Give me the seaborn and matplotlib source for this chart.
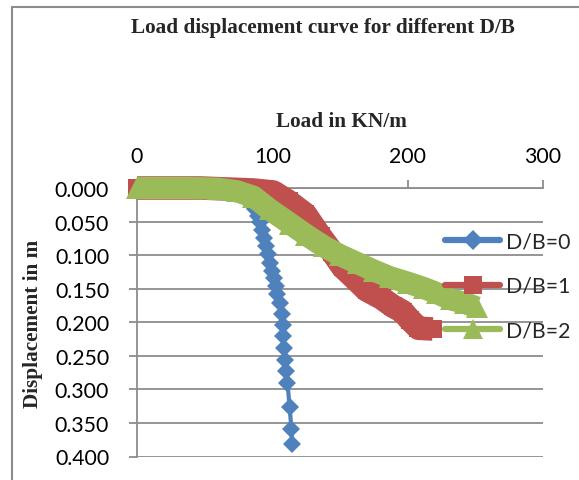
import matplotlib
matplotlib.use("Agg")
import matplotlib.pyplot as plt
from matplotlib.lines import Line2D
import seaborn as sns

# ---- data ----
title = "Load displacement curve for different D/B"
x_label = "Load in KN/m"
y_label = "Displacement in m"
series_names = ["D/B=0", "D/B=1", "D/B=2"]
x_ticks = [0, 100, 200, 300]
y_ticks = [0.000, 0.050, 0.100, 0.150, 0.200, 0.250, 0.300, 0.350, 0.400]

load_db0 = [0, 20, 40, 55, 65, 72, 77, 81, 84.5, 87.5, 89.5, 91, 92.5, 94, 95.2,
            96.7, 98.3, 99.8, 101.2, 102.5, 103.7, 105.9, 107.0, 107.6, 108.0,
            108.6, 109.4, 110.2, 111.2, 112.8, 114.1, 114.6]
disp_db0 = [0, 0, 0, 0.001, 0.003, 0.006, 0.011, 0.017, 0.024, 0.032, 0.041,
            0.051, 0.063, 0.075, 0.087, 0.099, 0.111, 0.123, 0.134, 0.146,
            0.158, 0.171, 0.188, 0.204, 0.220, 0.238, 0.256, 0.273, 0.290,
            0.327, 0.359, 0.382]

load_db1 = [0, 47, 86, 100.7, 112, 124.4, 135.6, 144.4, 152, 161.5, 169.6,
            180.7, 189, 196.3, 201.5, 208, 218.5]
disp_db1 = [0, 0, 0.003, 0.006, 0.020, 0.039, 0.072, 0.096, 0.118, 0.136,
            0.152, 0.164, 0.176, 0.184, 0.196, 0.209, 0.210]

load_db2 = [0, 40, 60, 74, 86, 98, 113, 125, 138, 150, 163, 175, 187, 200,
            212, 222, 232, 242, 251]
disp_db2 = [0, 0, 0.001, 0.005, 0.013, 0.032, 0.053, 0.070, 0.087, 0.100,
            0.112, 0.123, 0.133, 0.141, 0.149, 0.157, 0.166, 0.171, 0.178]

colors = ["#4F81BD", "#C0504D", "#9BBB59"]
grid_col = "#8c8c8c"

sns.set_style("white")
plt.rcParams["font.family"] = ["Lato", "DejaVu Sans"]

W, H = 579, 481
fig = plt.figure(figsize=(W / 100, H / 100), dpi=100)
ax = fig.add_axes([137 / W, 1 - 457.5 / H, 406 / W, 268.5 / H])

common = dict(ax=ax, sort=False, estimator=None, clip_on=False,
              markeredgewidth=0)
sns.lineplot(x=load_db0, y=disp_db0, color=colors[0], marker="D",
             markersize=9, linewidth=3, zorder=3, **common)
sns.lineplot(x=load_db1, y=disp_db1, color=colors[1], marker="s",
             markersize=13, linewidth=17, solid_joinstyle="round",
             solid_capstyle="butt", zorder=4, **common)
sns.lineplot(x=load_db2, y=disp_db2, color=colors[2], marker="^",
             markersize=16, linewidth=16, solid_joinstyle="round",
             solid_capstyle="butt", zorder=5, **common)

ax.set_xlim(0, 300)
ax.set_ylim(0.4, 0)
ax.set_xticks(x_ticks)
ax.set_xticklabels([str(v) for v in x_ticks])
ax.set_yticks(y_ticks)
ax.set_yticklabels([f"{v:.3f}" for v in y_ticks])
ax.set_axisbelow(True)
ax.yaxis.grid(True, color=grid_col, linewidth=1.3)
ax.xaxis.grid(False)
for s in ["right", "bottom"]:
    ax.spines[s].set_visible(False)
for s in ["top", "left"]:
    ax.spines[s].set_color(grid_col)
    ax.spines[s].set_linewidth(1.3)
ax.tick_params(axis="x", top=True, bottom=False, labeltop=True,
               labelbottom=False, direction="out", length=6, width=1.3,
               color=grid_col, pad=10, labelsize=15.3, labelcolor="black")
ax.tick_params(axis="y", left=True, direction="out", length=6, width=1.3,
               color=grid_col, pad=14, labelsize=15.3, labelcolor="black")

serif = dict(fontfamily="Liberation Serif", fontweight="bold", fontsize=15.3)
ax.xaxis.set_label_position("top")
ax.set_xlabel(x_label, **serif)
ax.xaxis.set_label_coords((341 - 137) / 406, (457.5 - 122) / 268.5)
ax.xaxis.label.set_va("center")
ax.set_ylabel(y_label, **serif)
ax.yaxis.set_label_coords((33 - 137) / 406, (457.5 - 324) / 268.5)
ax.yaxis.label.set_va("center")

fig.text(322.5 / W, 1 - 28 / H, title, ha="center", va="center", **serif)

handles = [
    Line2D([], [], color=colors[0], marker="D", markersize=10, linewidth=4.5,
           markeredgewidth=0),
    Line2D([], [], color=colors[1], marker="s", markersize=12.5, linewidth=4.5,
           markeredgewidth=0),
    Line2D([], [], color=colors[2], marker="^", markersize=15, linewidth=4.5,
           markeredgewidth=0),
]
ax.legend(handles, series_names, loc="center left",
          bbox_to_anchor=(445 / W, 1 - 287 / H), bbox_transform=fig.transFigure,
          frameon=False, fontsize=15.3, handlelength=2.6, handletextpad=0.25,
          labelspacing=1.15, borderpad=0, borderaxespad=0)

# outer chart border (cropped on right and bottom in the reference)
fig.add_artist(Line2D([12 / W, 12 / W], [0, 1 - 8 / H], transform=fig.transFigure,
                      color=grid_col, linewidth=1.5))
fig.add_artist(Line2D([12 / W, 1], [1 - 8 / H, 1 - 8 / H], transform=fig.transFigure,
                      color=grid_col, linewidth=1.5))

fig.savefig("out.png", dpi=100, facecolor="white")
